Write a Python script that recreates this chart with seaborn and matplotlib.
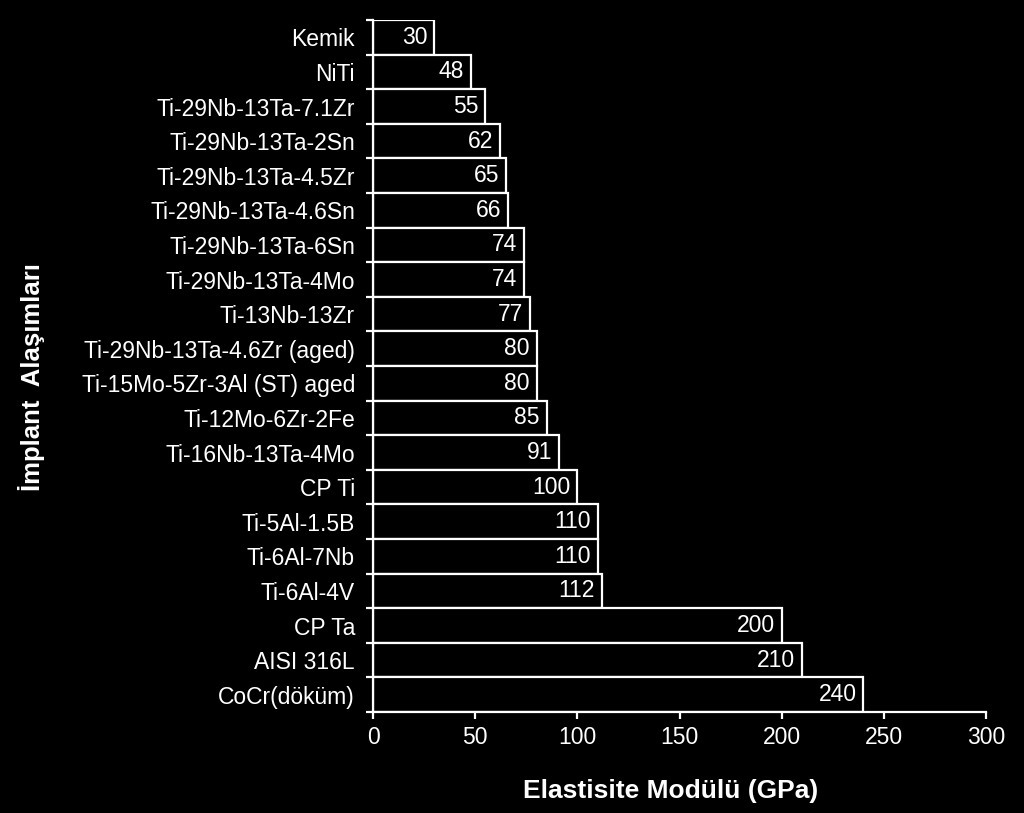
import numpy as np
import matplotlib
matplotlib.use("Agg")
import matplotlib.pyplot as plt
import pandas as pd
import seaborn as sns

# --- Data (top to bottom) ---
alloys = ["Kemik", "NiTi", "Ti-29Nb-13Ta-7.1Zr", "Ti-29Nb-13Ta-2Sn", "Ti-29Nb-13Ta-4.5Zr",
          "Ti-29Nb-13Ta-4.6Sn", "Ti-29Nb-13Ta-6Sn", "Ti-29Nb-13Ta-4Mo", "Ti-13Nb-13Zr",
          "Ti-29Nb-13Ta-4.6Zr (aged)", "Ti-15Mo-5Zr-3Al (ST) aged", "Ti-12Mo-6Zr-2Fe",
          "Ti-16Nb-13Ta-4Mo", "CP Ti", "Ti-5Al-1.5B", "Ti-6Al-7Nb", "Ti-6Al-4V",
          "CP Ta", "AISI 316L", "CoCr(döküm)"]
modulus = [30, 48, 55, 62, 65, 66, 74, 74, 77, 80, 80, 85, 91, 100, 110, 110, 112, 200, 210, 240]
x_ticks = [0, 50, 100, 150, 200, 250, 300]

df = pd.DataFrame({"alloy": alloys, "E": modulus})

sns.set_style("white")
plt.rcParams["font.family"] = ["Liberation Sans", "DejaVu Sans"]

fig = plt.figure(figsize=(10.24, 8.13), dpi=100, facecolor="black")
ax = fig.add_axes([0.3643, 0.1242, 0.5986, 0.8512])
ax.set_facecolor("black")

sns.barplot(data=df, x="E", y="alloy", orient="h", color="black", width=1.0,
            edgecolor="white", linewidth=1.6, saturation=1, ax=ax)

# value labels inside the bar ends
for i, v in enumerate(modulus):
    ax.annotate(str(v), (v, i), xytext=(-5, 0), textcoords="offset points",
                ha="right", va="center", color="white", fontsize=16.5)

ax.set_xlim(0, 300)
ax.set_ylim(len(alloys) - 0.5, -0.5)
ax.set_xticks(x_ticks)
ax.set_yticks(range(len(alloys)))
ax.set_yticklabels(alloys)
ax.set_yticks(np.arange(-0.5, len(alloys), 1.0), minor=True)

for s in ["top", "right"]:
    ax.spines[s].set_visible(False)
for s in ["left", "bottom"]:
    ax.spines[s].set_color("white")
    ax.spines[s].set_linewidth(1.6)

ax.tick_params(axis="y", which="major", length=0, pad=13, labelsize=16.5, colors="white")
ax.tick_params(axis="y", which="minor", left=True, length=5, width=1.6, color="white", direction="out")
ax.tick_params(axis="x", which="major", bottom=True, length=5, width=1.6, pad=5,
               labelsize=16.5, colors="white", direction="out")

ax.set_xlabel("Elastisite Modülü (GPa)", fontsize=19, fontweight="bold", color="white", labelpad=22)
ax.xaxis.label.set_x(0.485)
ax.set_ylabel("İmplant  Alaşımları", fontsize=18.5, fontweight="bold", color="white")
ax.yaxis.set_label_coords(-0.535, 0.484)

fig.savefig("out.png", dpi=100, facecolor="black")
